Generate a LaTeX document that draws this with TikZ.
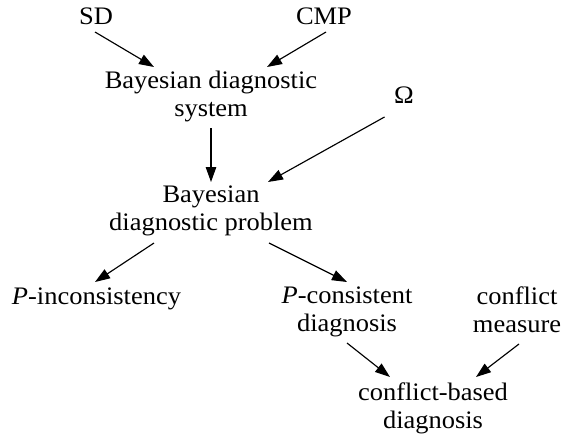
\documentclass[tikz,border=0pt]{standalone}
\usepackage{fontspec}
\setmainfont[FakeStretch=1.05]{Liberation Serif}
\usetikzlibrary{arrows.meta,calc}
\begin{document}
\begin{tikzpicture}[x=1pt,y=-1pt,
  lbl/.style={anchor=north,inner sep=0pt,align=center,font=\fontsize{25.2}{28}\selectfont},
  arr/.style={line width=1.15pt,-{Triangle[length=15pt,width=10.5pt]}}]
\useasboundingbox (0,0) rectangle (562,439);
\node[lbl] (sd) at (96,8) {SD};
\node[lbl] (cmp) at (324,8) {CMP};
\node[lbl] (bds) at (211,71) {Bayesian diagnostic\\system};
\node[lbl] (om) at (404,87) {Ω};
\node[lbl] (bdp) at (211,186) {Bayesian\\diagnostic problem};
\node[lbl] (pinc) at (96.5,288) {\textit{P}-inconsistency};
\node[lbl] (pcon) at (347,287) {\textit{P}-consistent\\diagnosis};
\node[lbl] (cm) at (517,287) {conflict\\measure};
\node[lbl] (cbd) at (433,383) {conflict-based\\diagnosis};
\draw[arr] ($(sd.north)+(-1,24)$) -- ($(bds.north)+(-57,-4)$);
\draw[arr] ($(cmp.north)+(2,24)$) -- ($(bds.north)+(56,-4)$);
\draw[arr] ($(bds.north)+(0,57)$) -- ($(bdp.north)+(0,-4)$);
\draw[arr] ($(om.north)+(-19.5,30)$) -- ($(bdp.north)+(57,-4)$);
\draw[arr] ($(bdp.north)+(-57,57)$) -- ($(pinc.north)+(-1.5,-6)$);
\draw[arr] ($(bdp.north)+(58,57)$) -- ($(pcon.north)+(0,-5)$);
\draw[arr] ($(pcon.north)+(0,56)$) -- ($(cbd.north)+(-43,-6)$);
\draw[arr] ($(cm.north)+(2,57)$) -- ($(cbd.north)+(43,-6)$);
\end{tikzpicture}
\end{document}
